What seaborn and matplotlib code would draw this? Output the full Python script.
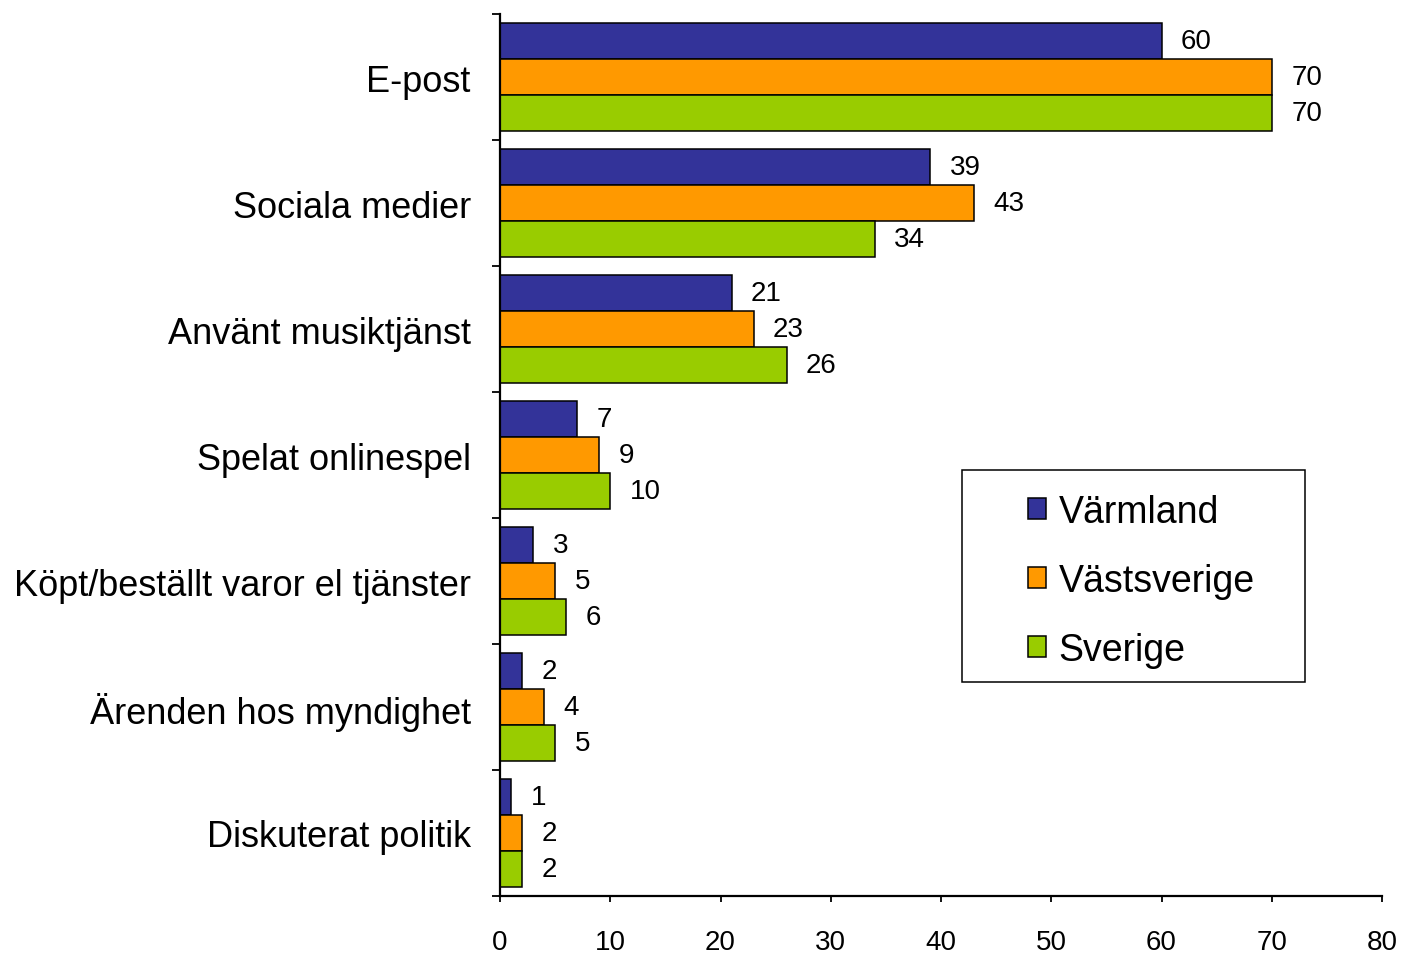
import pandas as pd
import matplotlib
matplotlib.use("Agg")
import matplotlib.pyplot as plt
import seaborn as sns
from matplotlib.patches import Patch, Rectangle
from matplotlib.ticker import FixedLocator

# Data
categories = ["E-post", "Sociala medier", "Använt musiktjänst", "Spelat onlinespel",
              "Köpt/beställt varor el tjänster", "Ärenden hos myndighet", "Diskuterat politik"]
regions = ["Värmland", "Västsverige", "Sverige"]
varmland = [60, 39, 21, 7, 3, 2, 1]
vastsverige = [70, 43, 23, 9, 5, 4, 2]
sverige = [70, 34, 26, 10, 6, 5, 2]
colors = ["#333399", "#FF9900", "#99CC00"]

df = pd.DataFrame({
    "Kategori": categories * 3,
    "Region": [r for r in regions for _ in categories],
    "Andel": varmland + vastsverige + sverige,
})

sns.set_style("white")
plt.rcParams["font.family"] = ["Liberation Sans", "DejaVu Sans"]
plt.rcParams["text.color"] = "black"
plt.rcParams["xtick.color"] = "black"
plt.rcParams["ytick.color"] = "black"

fig = plt.figure(figsize=(14.02, 9.54), dpi=100)
ax = fig.add_axes([500 / 1402, 1 - 897 / 954, 882 / 1402, 882 / 954])

sns.barplot(data=df, y="Kategori", x="Andel", hue="Region", order=categories,
            hue_order=regions, palette=colors, saturation=1, orient="h", width=0.857,
            edgecolor="black", linewidth=1.1, legend=False, ax=ax)

for cont, vals in zip(ax.containers, [varmland, vastsverige, sverige]):
    ax.bar_label(cont, labels=[str(v) for v in vals], padding=14, fontsize=20,
                 color="black")

ax.set_xlim(0, 80)
ax.set_ylim(6.5, -0.5)
ax.set_xticks(range(0, 81, 10))
ax.tick_params(axis="x", labelsize=20, length=4.5, width=1.3, direction="out",
               pad=19, bottom=True)
ax.tick_params(axis="y", which="major", labelsize=26, length=0, pad=21)
ax.yaxis.set_minor_locator(FixedLocator([i - 0.5 for i in range(len(categories) + 1)]))
ax.tick_params(axis="y", which="minor", length=6, width=1.3, direction="out", left=True)
ax.set_xlabel("")
ax.set_ylabel("")

sns.despine(ax=ax, top=True, right=True)
for s in ["left", "bottom"]:
    ax.spines[s].set_color("black")
    ax.spines[s].set_linewidth(1.6)

handles = [Patch(facecolor=c, edgecolor="black", linewidth=1.1) for c in colors]
fig.legend(handles, regions, loc="center left", bbox_to_anchor=(1028 / 1402, 1 - 582 / 954),
           frameon=False, fontsize=27, handlelength=0.48, handleheight=0.48,
           handletextpad=0.33, labelspacing=0.88, borderpad=0, borderaxespad=0)
fig.patches.append(Rectangle((962 / 1402, 1 - 683 / 954), 343 / 1402, 212 / 954,
                             transform=fig.transFigure, fill=False,
                             edgecolor="black", linewidth=1.1))

fig.savefig("out.png", dpi=100)
